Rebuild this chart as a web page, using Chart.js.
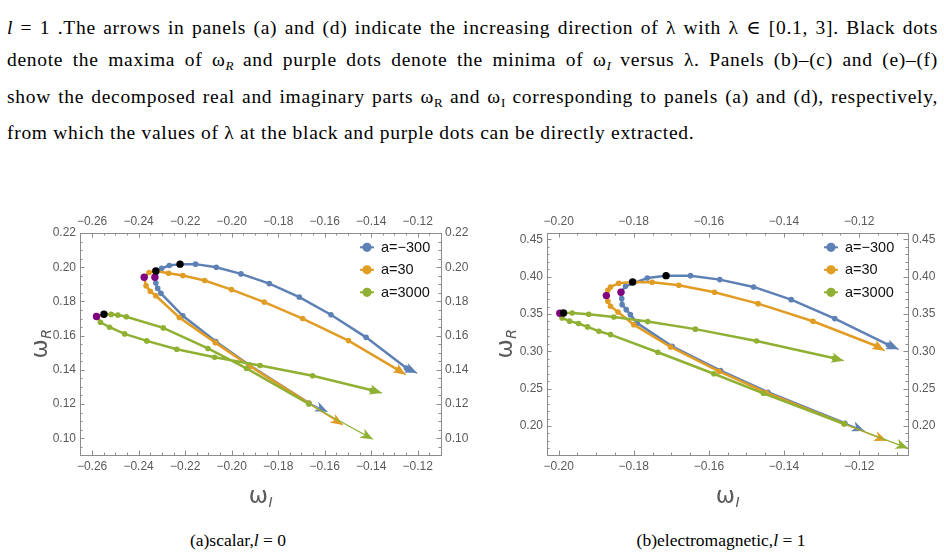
<!DOCTYPE html>
<html>
<head>
<meta charset="utf-8">
<script src="https://cdn.jsdelivr.net/npm/chart.js@4.4.1/dist/chart.umd.min.js"></script>
<style>
html,body{margin:0;padding:0;width:944px;height:557px;overflow:hidden;background:#fff;}
.ln{position:absolute;left:7px;width:931px;font-family:"Liberation Serif","DejaVu Serif",serif;font-size:19.5px;letter-spacing:0.7px;line-height:24px;color:#000;text-align:justify;text-align-last:justify;}
.ln.last{text-align:left;text-align-last:left;}
.ln sub{font-size:13px;vertical-align:-4px;line-height:0;letter-spacing:0;}
.cap{position:absolute;top:528px;font-family:"Liberation Serif","DejaVu Serif",serif;font-size:17.5px;line-height:24px;color:#000;white-space:nowrap;transform:translateX(-50%);}
canvas{position:absolute;}
</style>
</head>
<body>
<div class="ln" style="top:16px"><i>l</i> = 1 .The arrows in panels (a) and (d) indicate the increasing direction of λ with λ ∈ [0.1, 3]. Black dots</div>
<div class="ln" style="top:48px">denote the maxima of ω<sub><i>R</i></sub> and purple dots denote the minima of ω<sub><i>I</i></sub> versus λ. Panels (b)–(c) and (e)–(f)</div>
<div class="ln" style="top:85px">show the decomposed real and imaginary parts ω<sub>R</sub> and ω<sub>I</sub> corresponding to panels (a) and (d), respectively,</div>
<div class="ln last" style="top:121px">from which the values of λ at the black and purple dots can be directly extracted.</div>

<canvas id="cA" width="460" height="315" style="left:20px;top:200px"></canvas>
<canvas id="cB" width="450" height="315" style="left:490px;top:200px"></canvas>

<div class="cap" style="left:238px">(a)scalar,<i>l</i> = 0</div>
<div class="cap" style="left:721px">(b)electromagnetic,<i>l</i> = 1</div>

<script>
// ---------------- DATA ----------------
const SERIES = ['a=\u2212300', 'a=30', 'a=3000'];

// Panel (a) scalar, l = 0   (omega_I, omega_R), ordered from one arrow tip to the other
const A_BLUE_WI = [-0.1588,-0.1668,-0.1925,-0.2068,-0.2210,-0.2304,-0.2318,-0.2326,-0.2330,-0.2301,-0.2268,-0.2222,-0.2155,-0.2066,-0.1960,-0.1838,-0.1709,-0.1573,-0.1422,-0.1249,-0.1203];
const A_BLUE_WR = [0.1155,0.1206,0.1428,0.1565,0.1716,0.1847,0.1876,0.1908,0.1941,0.1994,0.2010,0.2018,0.2018,0.2000,0.1961,0.1904,0.1825,0.1722,0.1590,0.1410,0.1381];

const A_ORANGE_WI = [-0.1522,-0.1668,-0.1921,-0.2070,-0.2225,-0.2326,-0.2350,-0.2368,-0.2376,-0.2355,-0.2326,-0.2271,-0.2210,-0.2116,-0.2001,-0.1860,-0.1695,-0.1498,-0.1285,-0.1252];
const A_ORANGE_WR = [0.1078,0.1204,0.1421,0.1559,0.1706,0.1833,0.1859,0.1892,0.1941,0.1969,0.1978,0.1965,0.1951,0.1922,0.1869,0.1796,0.1700,0.1571,0.1400,0.1371];

const A_GREEN_WI = [-0.1354,-0.1397,-0.1652,-0.1878,-0.2073,-0.2236,-0.2365,-0.2460,-0.2525,-0.2564,-0.2581,-0.2549,-0.2518,-0.2489,-0.2453,-0.2294,-0.2102,-0.1936,-0.1668,-0.1393];
const A_GREEN_WR = [0.1264,0.1281,0.1365,0.1425,0.1473,0.1520,0.1569,0.1610,0.1649,0.1678,0.1712,0.1725,0.1724,0.1720,0.1710,0.1645,0.1525,0.1408,0.1200,0.0994];

const A_MAX_WI = [-0.2222,-0.2326,-0.2549];   // black dots
const A_MAX_WR = [0.2018,0.1978,0.1725];
const A_MIN_WI = [-0.2330,-0.2376,-0.2581];   // purple dots
const A_MIN_WR = [0.1941,0.1941,0.1712];

const A_X_RANGE = [-0.2652, -0.1100];
const A_Y_RANGE = [0.0902, 0.2200];
const A_X_TICKS = [-0.26,-0.24,-0.22,-0.20,-0.18,-0.16,-0.14,-0.12];
const A_Y_TICKS = [0.10,0.12,0.14,0.16,0.18,0.20,0.22];

// Panel (b) electromagnetic, l = 1
const B_BLUE_WI = [-0.1186,-0.1238,-0.1443,-0.1569,-0.1698,-0.1791,-0.1809,-0.1820,-0.1831,-0.1832,-0.1834,-0.1822,-0.1764,-0.1714,-0.1649,-0.1571,-0.1481,-0.1381,-0.1265,-0.1122,-0.1095];
const B_BLUE_WR = [0.1933,0.2038,0.2452,0.2741,0.3067,0.3379,0.3491,0.3558,0.3625,0.3705,0.3790,0.3871,0.3982,0.4013,0.4013,0.3960,0.3862,0.3692,0.3438,0.3085,0.3027];

const B_ORANGE_WI = [-0.1127,-0.1241,-0.1447,-0.1573,-0.1702,-0.1800,-0.1842,-0.1862,-0.1869,-0.1873,-0.1869,-0.1862,-0.1840,-0.1803,-0.1751,-0.1680,-0.1585,-0.1469,-0.1323,-0.1154,-0.1132];
const B_ORANGE_WR = [0.1804,0.2030,0.2446,0.2732,0.3058,0.3357,0.3527,0.3603,0.3670,0.3746,0.3817,0.3862,0.3911,0.3929,0.3924,0.3884,0.3790,0.3638,0.3402,0.3071,0.3009];

const B_GREEN_WI = [-0.1070,-0.1239,-0.1455,-0.1587,-0.1736,-0.1862,-0.1893,-0.1923,-0.1947,-0.1971,-0.1991,-0.1997,-0.1987,-0.1964,-0.1920,-0.1853,-0.1763,-0.1636,-0.1473,-0.1266,-0.1241];
const B_GREEN_WR = [0.1701,0.2027,0.2438,0.2700,0.2987,0.3224,0.3269,0.3327,0.3372,0.3404,0.3446,0.3509,0.3513,0.3513,0.3496,0.3460,0.3398,0.3297,0.3138,0.2906,0.2875];

const B_MAX_WI = [-0.1714,-0.1803,-0.1987];
const B_MAX_WR = [0.4013,0.3929,0.3513];
const B_MIN_WI = [-0.1834,-0.1873,-0.1997];
const B_MIN_WR = [0.3790,0.3746,0.3509];

const B_X_RANGE = [-0.2031, -0.1070];
const B_Y_RANGE = [0.1612, 0.4584];
const B_X_TICKS = [-0.20,-0.18,-0.16,-0.14,-0.12];
const B_Y_TICKS = [0.20,0.25,0.30,0.35,0.40,0.45];

// ---------------- STYLE ----------------
const COLORS = ['#5E81B5', '#E19C24', '#8FB032'];
const FRAME = '#8c8c8c';
const LABEL = '#5a5a5a';
const TICKFONT = {family: "'Liberation Sans', Arial, sans-serif", size: 12};

function fmt(v) {
  const s = Math.abs(v).toFixed(2);
  return (v < -1e-9 ? '\u2212' : '') + s;
}

function arrowHead(ctx, x0, y0, x1, y1, color) {
  const ang = Math.atan2(y1 - y0, x1 - x0);
  const L = 12.5, W = 5.2, notch = 3.5;
  ctx.save();
  ctx.translate(x1, y1);
  ctx.rotate(ang);
  ctx.beginPath();
  ctx.moveTo(0, 0);
  ctx.lineTo(-L, W);
  ctx.lineTo(-L + notch, 0);
  ctx.lineTo(-L, -W);
  ctx.closePath();
  ctx.fillStyle = color;
  ctx.fill();
  ctx.restore();
}

const arrowPlugin = {
  id: 'arrowPlugin',
  afterDatasetDraw(chart, args) {
    const ds = chart.data.datasets[args.index];
    if (!ds.arrows) return;
    const pts = args.meta.data;
    const n = pts.length;
    const ctx = chart.ctx;
    arrowHead(ctx, pts[1].x, pts[1].y, pts[0].x, pts[0].y, ds.borderColor);
    arrowHead(ctx, pts[n - 2].x, pts[n - 2].y, pts[n - 1].x, pts[n - 1].y, ds.borderColor);
  }
};

function minorValues(min, max, step, majors) {
  const out = [];
  const k0 = Math.ceil(min / step - 1e-6), k1 = Math.floor(max / step + 1e-6);
  for (let k = k0; k <= k1; k++) {
    const v = k * step;
    if (!majors.some(m => Math.abs(m - v) < step * 0.1)) out.push(v);
  }
  return out;
}

const frameTicks = {
  id: 'frameTicks',
  beforeDatasetsDraw(chart, args, o) {
    const {ctx, chartArea: ca, scales} = chart;
    ctx.save();
    ctx.strokeStyle = FRAME;
    ctx.lineWidth = 1;
    const MAJ = 4.5, MIN = 2.5;
    const xs = scales.x, ys = scales.y;
    const xMin = minorValues(xs.min, xs.max, o.xMinor, o.xMajor);
    const yMin = minorValues(ys.min, ys.max, o.yMinor, o.yMajor);
    ctx.beginPath();
    const vx = (v, len) => {
      const p = Math.round(xs.getPixelForValue(v)) + 0.5;
      ctx.moveTo(p, ca.bottom); ctx.lineTo(p, ca.bottom - len);
      ctx.moveTo(p, ca.top); ctx.lineTo(p, ca.top + len);
    };
    const vy = (v, len) => {
      const p = Math.round(ys.getPixelForValue(v)) + 0.5;
      ctx.moveTo(ca.left, p); ctx.lineTo(ca.left + len, p);
      ctx.moveTo(ca.right, p); ctx.lineTo(ca.right - len, p);
    };
    o.xMajor.forEach(v => vx(v, MAJ));
    xMin.forEach(v => vx(v, MIN));
    o.yMajor.forEach(v => vy(v, MAJ));
    yMin.forEach(v => vy(v, MIN));
    ctx.stroke();
    ctx.restore();
  }
};

function subLabel(ctx, cx, cy, rot, main, sub) {
  ctx.save();
  ctx.translate(cx, cy);
  ctx.rotate(rot);
  ctx.fillStyle = LABEL;
  const fMain = "23px 'DejaVu Sans', sans-serif";
  const fSub = "italic 14px 'DejaVu Sans', sans-serif";
  ctx.font = fMain;
  const w1 = ctx.measureText(main).width;
  ctx.font = fSub;
  const w2 = ctx.measureText(sub).width;
  const x0 = -(w1 + w2) / 2;
  ctx.textBaseline = 'alphabetic';
  ctx.textAlign = 'left';
  ctx.font = fMain;
  ctx.fillText(main, x0, 6);
  ctx.font = fSub;
  ctx.fillText(sub, x0 + w1 + 0.5, 10);
  ctx.restore();
}

const axisTitles = {
  id: 'axisTitles',
  afterDraw(chart, args, o) {
    const {ctx, chartArea: ca} = chart;
    subLabel(ctx, (ca.left + ca.right) / 2, ca.bottom + 42, 0, '\u03C9', 'I');
    subLabel(ctx, ca.left - o.yOff, (ca.top + ca.bottom) / 2, -Math.PI / 2, '\u03C9', 'R');
  }
};

const legendIn = {
  id: 'legendIn',
  afterDraw(chart, args, o) {
    const {ctx, chartArea: ca} = chart;
    ctx.save();
    ctx.font = "14.5px 'Liberation Sans', Arial, sans-serif";
    ctx.textBaseline = 'middle';
    ctx.textAlign = 'left';
    SERIES.forEach((name, i) => {
      const mx = ca.right - o.dx;
      const my = ca.top + 14.3 + i * 22.5;
      ctx.strokeStyle = COLORS[i];
      ctx.lineWidth = 2;
      ctx.beginPath();
      ctx.moveTo(mx - 7, my); ctx.lineTo(mx + 7, my);
      ctx.stroke();
      ctx.fillStyle = COLORS[i];
      ctx.beginPath();
      ctx.arc(mx, my, 4.6, 0, Math.PI * 2);
      ctx.fill();
      ctx.fillStyle = '#111';
      ctx.fillText(name, mx + 14, my + 0.5);
    });
    ctx.restore();
  }
};

function pts(xs, ys) { return xs.map((x, i) => ({x: x, y: ys[i]})); }

function lineDs(label, xs, ys, color, order) {
  const n = xs.length;
  return {
    label: label, data: pts(xs, ys), showLine: true,
    borderColor: color, backgroundColor: color,
    borderWidth: 2.5, tension: 0, order: order, arrows: true,
    pointRadius: c => (c.dataIndex === 0 || c.dataIndex === n - 1) ? 0 : 2.8,
    pointHoverRadius: 0, pointBorderWidth: 0, pointBackgroundColor: color,
    segment: { borderWidth: c => (c.p0DataIndex === 0 || c.p1DataIndex === n - 1) ? 1.3 : 2.5 },
    clip: false
  };
}

function dotDs(xs, ys, color) {
  return { data: pts(xs, ys), showLine: false, pointRadius: 3.7, pointHoverRadius: 0,
           pointBorderWidth: 0, pointBackgroundColor: color, backgroundColor: color, borderColor: color, order: 0 };
}

function axis(pos, range, ticks, size) {
  return {
    type: 'linear', position: pos, min: range[0], max: range[1],
    grid: {display: false, drawTicks: false},
    border: {display: true, color: FRAME, width: 1},
    ticks: {color: LABEL, font: TICKFONT, padding: 4, autoSkip: false, maxRotation: 0, minRotation: 0,
            callback: v => fmt(v)},
    afterBuildTicks: s => { s.ticks = ticks.map(v => ({value: v})); },
    afterFit: s => { if (pos === 'left' || pos === 'right') s.width = size; else s.height = size; }
  };
}

function build(id, P) {
  new Chart(document.getElementById(id), {
    type: 'scatter',
    data: {
      datasets: [
        dotDs(P.maxX, P.maxY, '#000000'),
        dotDs(P.minX, P.minY, '#800080'),
        lineDs(SERIES[2], P.gX, P.gY, COLORS[2], 1),
        lineDs(SERIES[1], P.oX, P.oY, COLORS[1], 2),
        lineDs(SERIES[0], P.bX, P.bY, COLORS[0], 3)
      ]
    },
    options: {
      responsive: false, animation: false, devicePixelRatio: 1,
      layout: {padding: 0},
      events: [],
      plugins: {
        legend: {display: false}, tooltip: {enabled: false},
        frameTicks: {xMajor: P.xt, yMajor: P.yt, xMinor: P.xMinor, yMinor: P.yMinor},
        axisTitles: {yOff: P.yOff},
        legendIn: {dx: P.legDx}
      },
      scales: {
        x: axis('bottom', P.xr, P.xt, P.sz[3]),
        x2: axis('top', P.xr, P.xt, P.sz[2]),
        y: axis('left', P.yr, P.yt, P.sz[0]),
        y2: axis('right', P.yr, P.yt, P.sz[1])
      }
    },
    plugins: [arrowPlugin, frameTicks, axisTitles, legendIn]
  });
}

build('cA', {
  bX: A_BLUE_WI, bY: A_BLUE_WR, oX: A_ORANGE_WI, oY: A_ORANGE_WR, gX: A_GREEN_WI, gY: A_GREEN_WR,
  maxX: A_MAX_WI, maxY: A_MAX_WR, minX: A_MIN_WI, minY: A_MIN_WR,
  xr: A_X_RANGE, yr: A_Y_RANGE, xt: A_X_TICKS, yt: A_Y_TICKS,
  xMinor: 0.005, yMinor: 0.005, sz: [60, 39, 33, 60], yOff: 39, legDx: 74
});
build('cB', {
  bX: B_BLUE_WI, bY: B_BLUE_WR, oX: B_ORANGE_WI, oY: B_ORANGE_WR, gX: B_GREEN_WI, gY: B_GREEN_WR,
  maxX: B_MAX_WI, maxY: B_MAX_WR, minX: B_MIN_WI, minY: B_MIN_WR,
  xr: B_X_RANGE, yr: B_Y_RANGE, xt: B_X_TICKS, yt: B_Y_TICKS,
  xMinor: 0.005, yMinor: 0.01, sz: [57, 32, 33, 60], yOff: 41, legDx: 77
});
</script>
</body>
</html>
